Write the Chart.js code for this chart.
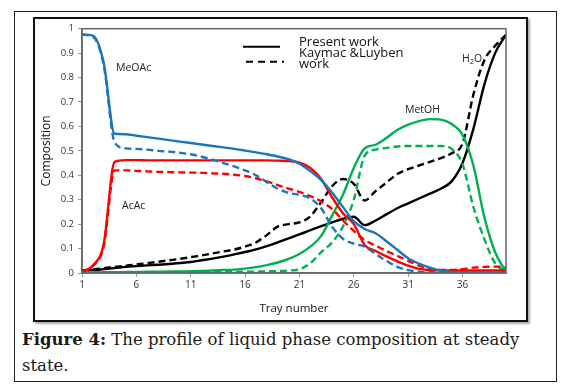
<!DOCTYPE html>
<html>
<head>
<meta charset="utf-8">
<script src="https://cdn.jsdelivr.net/npm/chart.js@4.4.0/dist/chart.umd.min.js"></script>
<style>
  html, body { margin: 0; padding: 0; background: #fff; }
  body { width: 563px; height: 386px; position: relative; overflow: hidden; }
  #outerBox { position: absolute; left: 14px; top: 11px; width: 541px; height: 369px; border: 1px solid #222; }
  #chartFrame { position: absolute; left: 33px; top: 17px; width: 491px; height: 301px; border: 2px solid #111; box-shadow: 2px 2px 2px #aaa; }
  #chartBox { position: absolute; left: 0; top: 0; width: 491px; height: 301px; }
  #caption { position: absolute; left: 22px; top: 327px; font-family: "DejaVu Serif", "Liberation Serif", serif; font-size: 16.5px; line-height: 26px; color: #1a1a1a; white-space: nowrap; }
</style>
</head>
<body>
<div id="outerBox"></div>
<div id="chartFrame"><div id="chartBox"><canvas id="profileChart"></canvas></div></div>
<div id="caption"><b>Figure 4:</b> The profile of liquid phase composition at steady<br>state.</div>

<script>
// tray numbers and liquid compositions
const trays = [1,2,3,4,5,6,7,8,9,10,11,12,13,14,15,16,17,18,19,20,21,22,23,24,25,26,27,28,29,30,31,32,33,34,35,36,37,38,39,40];
const xTicks = [1, 6, 11, 16, 21, 26, 31, 36];

const meoacPresent = [0.977,0.972,0.86,0.57,0.568,0.562,0.556,0.55,0.544,0.538,0.532,0.526,0.52,0.514,0.508,0.501,0.494,0.486,0.477,0.466,0.447,0.417,0.38,0.33,0.27,0.212,0.18,0.163,0.13,0.095,0.06,0.038,0.022,0.01,0.004,0.002,0.002,0.002,0.002,0.002];
const meoacKaymak = [0.975,0.967,0.85,0.535,0.51,0.508,0.505,0.5,0.497,0.492,0.486,0.476,0.464,0.45,0.436,0.42,0.4,0.372,0.345,0.328,0.32,0.305,0.265,0.19,0.14,0.12,0.108,0.078,0.05,0.025,0.012,0.005,0.003,0.003,0.003,0.003,0.003,0.003,0.003,0.003];

const acacPresent = [0.005,0.03,0.12,0.455,0.462,0.462,0.461,0.461,0.461,0.461,0.461,0.461,0.461,0.461,0.461,0.461,0.461,0.461,0.46,0.458,0.452,0.43,0.385,0.31,0.245,0.2,0.115,0.09,0.068,0.048,0.03,0.017,0.012,0.01,0.01,0.01,0.01,0.01,0.01,0.01];
const acacKaymak = [0.005,0.03,0.11,0.42,0.42,0.418,0.416,0.414,0.413,0.412,0.411,0.41,0.408,0.406,0.402,0.397,0.388,0.375,0.36,0.345,0.332,0.315,0.293,0.262,0.215,0.172,0.135,0.112,0.09,0.07,0.05,0.03,0.018,0.013,0.012,0.016,0.022,0.025,0.026,0.025];

const waterPresent = [0.01,0.012,0.016,0.02,0.025,0.028,0.031,0.034,0.037,0.041,0.045,0.052,0.059,0.067,0.076,0.086,0.097,0.11,0.125,0.142,0.158,0.175,0.192,0.207,0.222,0.23,0.196,0.215,0.24,0.265,0.285,0.305,0.325,0.345,0.375,0.45,0.59,0.77,0.9,0.975];
const waterKaymak = [0.01,0.014,0.02,0.025,0.03,0.035,0.04,0.046,0.052,0.058,0.065,0.072,0.08,0.088,0.096,0.108,0.125,0.155,0.19,0.2,0.207,0.232,0.29,0.355,0.385,0.365,0.297,0.335,0.37,0.405,0.425,0.44,0.455,0.47,0.49,0.53,0.73,0.87,0.93,0.975];

const methPresent = [0.002,0.002,0.003,0.003,0.004,0.004,0.005,0.005,0.006,0.006,0.007,0.008,0.01,0.012,0.014,0.018,0.024,0.032,0.043,0.058,0.078,0.108,0.152,0.235,0.32,0.43,0.51,0.525,0.553,0.585,0.607,0.622,0.63,0.628,0.61,0.565,0.44,0.23,0.085,0.005];
const methKaymak = [0.002,0.002,0.002,0.002,0.002,0.002,0.002,0.003,0.003,0.003,0.003,0.003,0.004,0.004,0.005,0.005,0.006,0.007,0.008,0.01,0.015,0.04,0.085,0.125,0.19,0.3,0.48,0.505,0.512,0.518,0.52,0.52,0.52,0.52,0.508,0.445,0.27,0.14,0.04,0.005];

const BLUE = '#1b75bc', RED = '#ff0000', GREEN = '#00b050', BLACK = '#000000';
const DASH = [7, 4];

function toPoints(values) {
    return trays.map((t, i) => ({ x: t, y: values[i] }));
}

function series(label, values, color, dashed) {
    return {
        label: label,
        data: toPoints(values),
        borderColor: color,
        backgroundColor: color,
        borderWidth: 2.4,
        borderDash: dashed ? DASH : [],
        pointRadius: 0,
        cubicInterpolationMode: 'monotone',
        fill: false
    };
}

// plot frame + legend + component labels
const decorPlugin = {
    id: 'decor',
    afterDraw(chart) {
        const ctx = chart.ctx;
        const a = chart.chartArea;
        ctx.save();
        ctx.strokeStyle = '#666';
        ctx.lineWidth = 1.5;
        ctx.strokeRect(a.left, a.top, a.right - a.left, a.bottom - a.top);

        // legend
        const lx = a.left + 161, ly = a.top + 18;
        ctx.strokeStyle = '#000';
        ctx.lineWidth = 2;
        ctx.setLineDash([]);
        ctx.beginPath(); ctx.moveTo(lx, ly); ctx.lineTo(lx + 37, ly); ctx.stroke();
        ctx.setLineDash([7, 5]);
        ctx.beginPath(); ctx.moveTo(lx + 3, ly + 15); ctx.lineTo(lx + 41, ly + 15); ctx.stroke();
        ctx.setLineDash([]);
        ctx.fillStyle = '#111';
        ctx.font = '13px "Open Sans", sans-serif';
        ctx.textBaseline = 'middle';
        ctx.textAlign = 'left';
        ctx.fillText('Present work', lx + 56, ly - 4);
        ctx.fillText('Kaymac &Luyben', lx + 56, ly + 7);
        ctx.fillText('work', lx + 56, ly + 18);

        // component names
        ctx.font = '10.5px "Open Sans", sans-serif';
        ctx.fillStyle = '#222';
        ctx.fillText('MeOAc', a.left + 34, a.top + 39);
        ctx.fillText('AcAc', a.left + 40, a.top + 177);
        ctx.fillText('MetOH', a.left + 323, a.top + 81);
        ctx.fillText('H', a.left + 380, a.top + 30);
        ctx.font = '7px "Open Sans", sans-serif';
        ctx.fillText('2', a.left + 388, a.top + 33);
        ctx.font = '10.5px "Open Sans", sans-serif';
        ctx.fillText('O', a.left + 392, a.top + 30);
        ctx.restore();
    }
};

function initProfileChart() {
    Chart.defaults.font.family = '"Open Sans", sans-serif';
    Chart.defaults.color = '#444';

    const ctx = document.getElementById('profileChart');
    new Chart(ctx, {
        type: 'line',
        data: {
            datasets: [
                series('MeOAc present', meoacPresent, BLUE, false),
                series('MeOAc Kaymak', meoacKaymak, BLUE, true),
                series('AcAc present', acacPresent, RED, false),
                series('AcAc Kaymak', acacKaymak, RED, true),
                series('MetOH present', methPresent, GREEN, false),
                series('MetOH Kaymak', methKaymak, GREEN, true),
                series('H2O present', waterPresent, BLACK, false),
                series('H2O Kaymak', waterKaymak, BLACK, true)
            ]
        },
        options: {
            responsive: true,
            maintainAspectRatio: false,
            animation: false,
            layout: { padding: { left: 0, right: 20, top: 8, bottom: 0 } },
            plugins: { legend: { display: false }, tooltip: { enabled: false } },
            scales: {
                x: {
                    type: 'linear',
                    min: 1,
                    max: 40,
                    afterBuildTicks: (scale) => { scale.ticks = xTicks.map(v => ({ value: v })); },
                    afterFit: (scale) => { scale.height = 47; },
                    grid: { display: true, drawOnChartArea: false, tickLength: 4, color: '#999' },
                    border: { color: '#666', width: 1.5 },
                    ticks: { font: { size: 10 }, color: '#333', padding: 2, maxRotation: 0 },
                    title: { display: true, text: 'Tray number', font: { size: 11.5 }, color: '#111', padding: { top: 4 } }
                },
                y: {
                    min: 0,
                    max: 1,
                    afterFit: (scale) => { scale.width = 47; },
                    grid: { display: true, drawOnChartArea: false, tickLength: 4, color: '#999' },
                    border: { color: '#666', width: 1.5 },
                    ticks: { stepSize: 0.1, font: { size: 9.5 }, color: '#333', padding: 4,
                             callback: (v) => String(Math.round(v * 10) / 10) },
                    title: { display: true, text: 'Composition', font: { size: 12 }, color: '#111', padding: { bottom: 2 } }
                }
            }
        },
        plugins: [decorPlugin]
    });
}

window.addEventListener('DOMContentLoaded', initProfileChart);
</script>
</body>
</html>
